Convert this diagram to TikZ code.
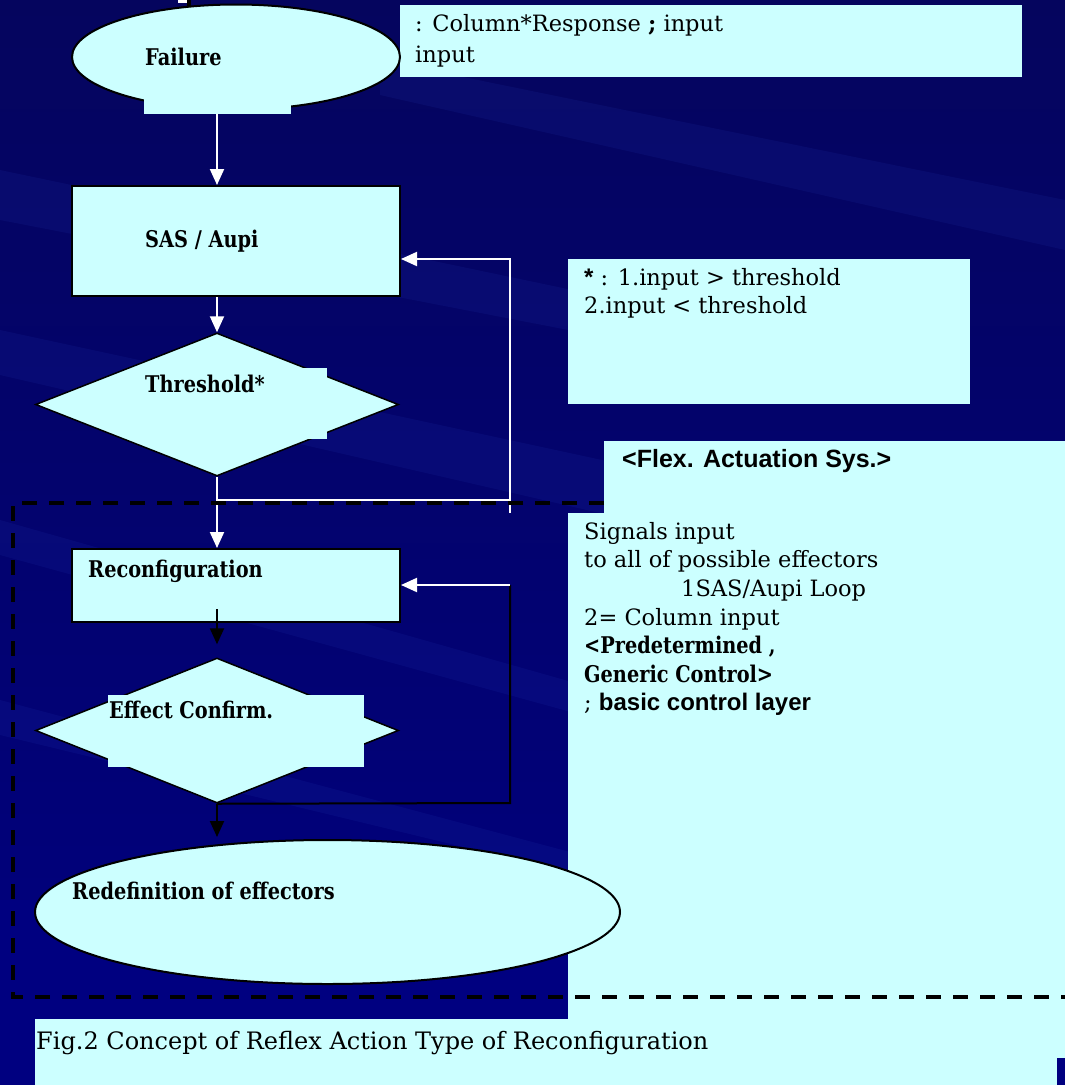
\documentclass[tikz,border=0pt]{standalone}
\usepackage{fontspec}
\setmainfont{DejaVu Serif}
\newfontfamily\narrowserif[FakeStretch=0.84]{DejaVu Serif}
\newfontfamily\arialfont{Liberation Sans}
\usetikzlibrary{shapes.geometric,arrows.meta}

\definecolor{panel}{HTML}{CCFFFF}
\definecolor{navy}{HTML}{000080}
\definecolor{bgdeep}{HTML}{05055E}
\definecolor{streak}{HTML}{2A4AC8}

\newcommand\lblfont{\narrowserif\bfseries\fontsize{23}{28}\selectfont}
\newcommand\txtfont{\fontsize{22.5}{28.5}\selectfont}
\newcommand\figcapfont{\fontsize{24}{30}\selectfont}
\newcommand\hdsans{\arialfont\bfseries\fontsize{24}{28}\selectfont}
\newcommand\flexsans{\arialfont\bfseries\fontsize{25}{28}\selectfont}

\tikzset{
  flowbox/.style={draw=black, line width=2pt, fill=panel, inner sep=0pt},
  flowoval/.style={ellipse, draw=black, line width=2pt, fill=panel, inner sep=0pt},
  flowdiamond/.style={diamond, draw=black, line width=1.5pt, fill=panel, inner sep=0pt},
  note/.style={fill=panel, inner sep=0pt, outer sep=0pt},
  lbl/.style={anchor=base west, inner sep=0pt, font=\lblfont},
  txt/.style={anchor=base west, inner sep=0pt, font=\txtfont},
  wline/.style={draw=white, line width=2pt},
  warrow/.style={wline, -{Triangle[length=16pt,width=14pt]}},
  bline/.style={draw=black, line width=2pt},
  barrow/.style={bline, -{Triangle[length=16pt,width=14pt]}},
  groupframe/.style={draw=black, line width=4pt, dash pattern=on 15pt off 12pt}
}

\begin{document}
\begin{tikzpicture}[x=1pt, y=-1pt]
\useasboundingbox (0,0) rectangle (1065,1085);

% slide background: dark navy with light diagonal streaks
\shade[top color=bgdeep, bottom color=navy] (0,0) rectangle (1065,1085);
\begin{scope}[opacity=0.11]
  \fill[streak] (0,170) -- (620,300) -- (620,340) -- (0,220) -- cycle;
  \fill[streak] (380,60) -- (1065,200) -- (1065,250) -- (380,95) -- cycle;
  \fill[streak] (0,330) -- (1065,560) -- (1065,620) -- (0,375) -- cycle;
  \fill[streak] (0,520) -- (600,690) -- (600,720) -- (0,555) -- cycle;
  \fill[streak] (0,700) -- (600,860) -- (600,880) -- (0,735) -- cycle;
\end{scope}
\fill[navy] (0,900) rectangle (568,1085);
\fill[navy] (1057,1058) rectangle (1065,1085);

% remnant marks at the top edge
\fill[white] (178,0) rectangle (187,3);
\fill[black] (187,0) rectangle (191,8);

% side notes
\node[note, minimum width=622pt, minimum height=72pt] (topnote) at (711,41) {};
\node[note, minimum width=402pt, minimum height=145pt] (starnote) at (769,331.5) {};
\node[note, minimum width=461pt, minimum height=72pt] (flexnote) at (834.5,477) {};
\node[note, minimum width=497pt, minimum height=545pt] (signote) at (816.5,785.5) {};
\node[note, minimum width=1022pt, minimum height=66pt] (capnote) at (546,1052) {};

% flow elements
\coordinate (col) at (217,0);
\node[flowoval, minimum width=328pt, minimum height=105pt] (failure) at (236,57) {};
\node[note, minimum width=147pt, minimum height=18pt] (failpatch) at (217.5,105) {};
\node[flowbox, minimum width=328pt, minimum height=110pt] (sas) at (236,241) {};
\node[flowdiamond, minimum width=363pt, minimum height=143pt] (thr) at (217,404.5) {};
\node[note, minimum width=187pt, minimum height=71pt] (thrpatch) at (233.5,403.5) {};
\node[flowbox, minimum width=328pt, minimum height=73pt] (rec) at (236,585.5) {};
\node[flowdiamond, minimum width=363pt, minimum height=145pt] (eff) at (217,730.5) {};
\node[note, minimum width=256pt, minimum height=72pt] (effpatch) at (236,731) {};
\node[flowoval, minimum width=585pt, minimum height=144pt] (redef) at (327.5,912) {};

% flow labels
\node[lbl] (failuretext) at (145,65) {Failure};
\node[lbl] (sastext) at (145,247) {SAS / Aupi};
\node[lbl] (thrtext) at (145,392) {Threshold*};
\node[lbl] (rectext) at (88,577) {Reconfiguration};
\node[lbl] (efftext) at (109,718) {Effect Confirm.};
\node[lbl] (redeftext) at (72,899) {Redefinition of effectors};

% connectors
\coordinate (loopT) at (510,259);
\coordinate (loopJ) at (217,500);
\coordinate (loopR) at (510,500);
\coordinate (loopE) at (510,513);
\coordinate (loopB) at (510,585);
\coordinate (loopC) at (510,803);

\draw[warrow] ([yshift=-3pt]failure.south -| col) -- (sas.north -| col);
\draw[warrow] (sas.south -| col) -- (thr.north);
\draw[warrow] (thr.south) -- (rec.north -| col);
\draw[wline] (loopJ) -- (loopR);
\draw[warrow] (loopE) -- (loopT) -- (loopT -| sas.east);
\draw[barrow] ([yshift=14pt]rec.south -| col) -- ([yshift=13pt]eff.north);
\draw[bline] (eff.south) -- (loopC) -- (loopB);
\draw[warrow] (loopB) -- (loopB -| rec.east);
\draw[barrow] (eff.south) -- ([yshift=2pt]redef.north -| eff.south);

% dashed grouping frame
\draw[groupframe] (604,503) -- (13,503) -- (13,997) -- (1065,997);

% note texts
\node[txt] (t1) at (415,31) {: Column*Response {\bfseries;} input};
\node[txt] (t2) at (415,62) {input};
\node[txt] (s1) at (584,285) {{\hdsans *} : 1.input > threshold};
\node[txt] (s2) at (584,313) {2.input < threshold};
\node[anchor=base west, inner sep=0pt, font=\flexsans] (f1) at (622,467) {<Flex. Actuation Sys.>};
\node[txt] (g1) at (584,539) {Signals input};
\node[txt] (g2) at (584,567) {to all of possible effectors};
\node[txt] (g3) at (681,596) {1SAS/Aupi Loop};
\node[txt] (g4) at (584,625) {2= Column input};
\node[lbl] (g5) at (584,653) {<Predetermined ,};
\node[lbl] (g6) at (584,682) {Generic Control>};
\node[txt] (g7) at (584,710) {; {\hdsans basic control layer}};

% caption
\node[anchor=base west, inner sep=0pt, font=\figcapfont] (caption) at (36,1049) {Fig.2 Concept of Reflex Action Type of Reconfiguration};
\end{tikzpicture}
\end{document}
